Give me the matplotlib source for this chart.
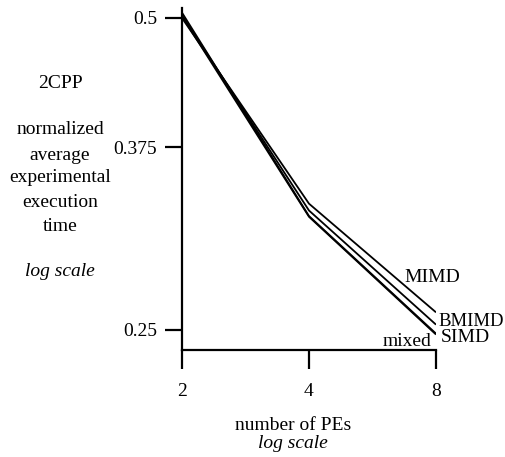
import matplotlib
matplotlib.use("Agg")
import matplotlib.pyplot as plt
from matplotlib.ticker import FixedLocator, NullLocator

plt.rcParams["font.family"] = ["Liberation Serif", "DejaVu Serif"]

pes = [2, 4, 8]
mimd = [0.500, 0.331, 0.260]
bmimd = [0.503, 0.326, 0.253]
simd = [0.506, 0.322, 0.248]
mixed = [0.502, 0.3215, 0.2475]
yticks = [0.25, 0.375, 0.5]
ytick_labels = ["0.25", "0.375", "0.5"]
xticks = [2, 4, 8]

W, H = 505, 457
fig = plt.figure(figsize=(W / 100, H / 100), dpi=100)
ax = fig.add_axes([182 / W, 1 - 350 / H, (436 - 182) / W, (350 - 8) / H])

for s in [mimd, bmimd, simd, mixed]:
    ax.plot(pes, s, color="black", linewidth=1.3, solid_capstyle="butt")

ax.set_xscale("log")
ax.set_yscale("log")
ax.set_xlim(2, 8)
ax.set_ylim(0.25 * 2 ** (-20 / 312), 0.5 * 2 ** (10 / 312))

ax.xaxis.set_major_locator(FixedLocator(xticks))
ax.xaxis.set_minor_locator(NullLocator())
ax.set_xticklabels([str(x) for x in xticks])
ax.yaxis.set_major_locator(FixedLocator(yticks))
ax.yaxis.set_minor_locator(NullLocator())
ax.set_yticklabels(ytick_labels)

for side in ["top", "right"]:
    ax.spines[side].set_visible(False)
for side in ["left", "bottom"]:
    ax.spines[side].set_linewidth(1.6)

ax.tick_params(axis="y", direction="out", length=12, width=1.6, pad=6, labelsize=14)
ax.tick_params(axis="x", direction="out", length=14, width=1.6, pad=10, labelsize=14)

fs = 14
# line labels
fig.text(432 / W, 1 - 277 / H, "MIMD", ha="center", va="center", fontsize=fs)
fig.text(438 / W, 1 - 322 / H, "BMIMD", ha="left", va="center", fontsize=13.5)
fig.text(441 / W, 1 - 338 / H, "SIMD", ha="left", va="center", fontsize=fs)
fig.text(407 / W, 1 - 341 / H, "mixed", ha="center", va="center", fontsize=fs)

# y-axis description
ylab = [("2CPP", 83), ("normalized", 130), ("average", 155),
        ("experimental", 178), ("execution", 203), ("time", 226)]
for txt, yp in ylab:
    fig.text(60 / W, 1 - yp / H, txt, ha="center", va="center", fontsize=fs)
fig.text(60 / W, 1 - 272 / H, "log scale", ha="center", va="center",
         fontsize=fs, style="italic")

# x-axis description
fig.text(293 / W, 1 - 425 / H, "number of PEs", ha="center", va="center", fontsize=fs)
fig.text(293 / W, 1 - 443 / H, "log scale", ha="center", va="center",
         fontsize=fs, style="italic")

fig.savefig("out.png", dpi=100)
